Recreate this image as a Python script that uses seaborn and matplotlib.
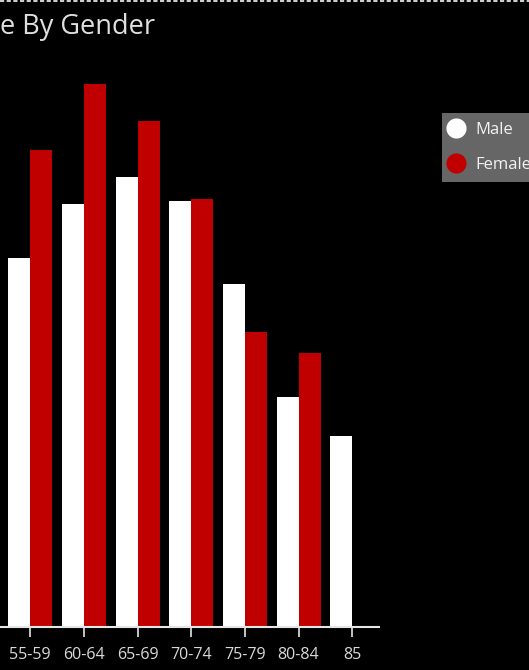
import matplotlib
matplotlib.use("Agg")
import matplotlib.pyplot as plt
from matplotlib.lines import Line2D
import seaborn as sns
import pandas as pd

categories = ["55-59", "60-64", "65-69", "70-74", "75-79", "80-84", "85"]
male = [369, 423, 450, 426, 343, 230, 191]
female = [477, 543, 506, 428, 295, 274, 0]
series = ["Male", "Female"]
colors = {"Male": "#ffffff", "Female": "#c00000"}

df = pd.DataFrame({
    "Age": categories * 2,
    "Gender": ["Male"] * len(categories) + ["Female"] * len(categories),
    "Value": male + female,
})

sns.set_theme(style="dark")
plt.rcParams["font.family"] = ["Open Sans", "DejaVu Sans"]

W, H = 529, 670
fig = plt.figure(figsize=(W / 100, H / 100), dpi=100, facecolor="black")
ax = fig.add_axes([0, (H - 626.5) / H, 379 / W, (626.5 - 60) / H])
ax.set_facecolor("black")

sns.barplot(data=df, x="Age", y="Value", hue="Gender", order=categories,
            hue_order=series, palette=colors, width=0.82, linewidth=0,
            saturation=1, ax=ax, legend=False)

ax.set_xlim(-0.565, 6.5)
ax.set_ylim(0, 566.5)
ax.set_xlabel("")
ax.set_ylabel("")
ax.set_yticks([])
ax.grid(False)
for s in ["top", "right", "left"]:
    ax.spines[s].set_visible(False)
ax.spines["bottom"].set_color("#e6e6e6")
ax.spines["bottom"].set_linewidth(1.5)
ax.tick_params(axis="x", colors="#e6e6e6", labelcolor="#d9d9d9", direction="out",
               length=7.5, width=1.2, pad=7, labelsize=11.5, bottom=True)

fig.text(0, 1 - 34 / H, "e By Gender", color="#e0e0e0", fontsize=19.5,
         ha="left", va="baseline")

handles = [Line2D([0], [0], marker="o", ls="", markersize=14.5,
                  markerfacecolor=colors[s], markeredgewidth=0) for s in series]
leg = fig.legend(handles, series, loc="upper left",
                 bbox_to_anchor=(441.7 / W, 1 - 112.7 / H), borderaxespad=0,
                 frameon=True, facecolor="#666666", edgecolor="none", framealpha=1,
                 fontsize=12, labelcolor="#f2f2f2", handlelength=0.6,
                 handletextpad=0.85, labelspacing=1.15, borderpad=0.55, fancybox=False)

fig.add_artist(Line2D([0, 1], [1 - 1 / H, 1 - 1 / H], transform=fig.transFigure,
                      color="#cccccc", lw=1.5, ls=(0, (2, 1.2))))

fig.savefig("out.png", dpi=100, facecolor="black")
